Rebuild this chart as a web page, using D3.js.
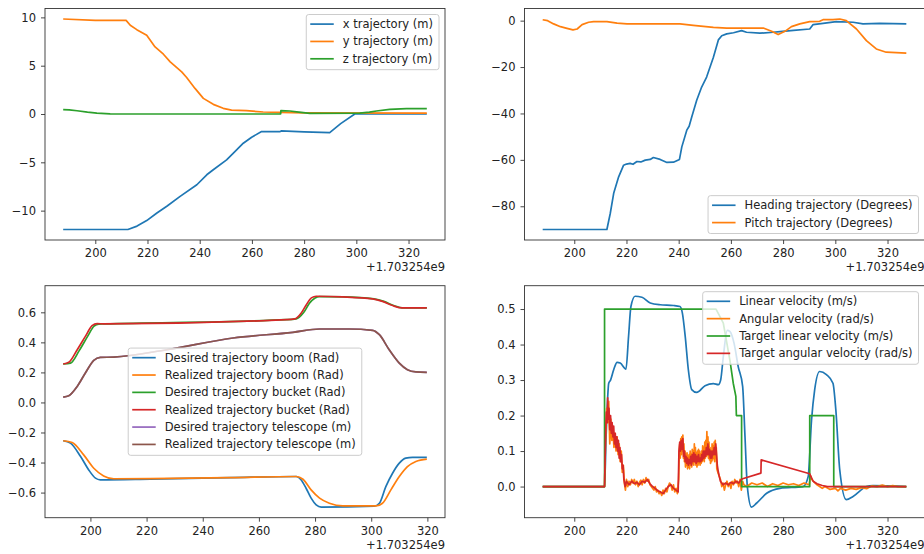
<!DOCTYPE html>
<html lang="en">
<head>
<meta charset="utf-8">
<title>Trajectories</title>
<style>
  body { margin: 0; background: #fff; }
  svg { display: block; font-family: "DejaVu Sans", sans-serif; }
</style>
<script src="https://d3js.org/d3.v7.min.js"></script>
</head>
<body>
<script>
// ---- data (time in s, offset +1.703254e9) ----
var xTicks = [200, 220, 240, 260, 280, 300, 320];
var offsetLabel = "+1.703254e9";

// top left: position
var xTraj = [[187.7,-11.95],[212.5,-11.95],[216,-11.6],[219.7,-11.03],[223.6,-10.24],[227.4,-9.55],[232.5,-8.52],[238.9,-7.32],[242.7,-6.29],[245.2,-5.77],[250.3,-4.74],[252.9,-4.05],[256.7,-3.02],[259.9,-2.4],[263.7,-1.82],[270.8,-1.82],[271.2,-1.75],[280,-1.85],[289.8,-1.92],[294,-1.0],[299.4,0.0],[327,0.0]];
var yTraj = [[187.7,9.83],[200,9.69],[211.8,9.69],[213.4,9.18],[215.9,8.73],[219.7,8.14],[222.9,6.94],[226.1,6.19],[228.7,5.40],[233.1,4.36],[235,3.78],[238.2,2.65],[241.4,1.62],[245.2,1.0],[249,0.59],[252.2,0.41],[257.9,0.34],[264.3,0.21],[270.7,0.17],[280,0.12],[327,0.1]];
var zTraj = [[187.7,0.45],[190,0.43],[193,0.34],[197,0.2],[200.6,0.1],[205.7,0.02],[271,0.0],[271.1,0.35],[274.5,0.31],[278,0.2],[282.2,0.07],[301.3,0.1],[305,0.2],[307.7,0.31],[312.8,0.48],[319.2,0.55],[327,0.55]];
var tlYTicks = [-10, -5, 0, 5, 10];

// top right: attitude
var heading = [[187.9,-90],[212.5,-90],[213.8,-83],[215.1,-74.4],[217,-67.3],[218.9,-62.3],[220,-61.8],[221.4,-61.5],[222.5,-61.9],[224,-60.7],[225.5,-60.9],[227.2,-60.1],[229.1,-59.8],[230.3,-59],[232.9,-59.8],[235.5,-61.1],[238,-61],[240.3,-59.8],[241.2,-54.4],[243.1,-47.2],[244,-45.5],[245,-41.5],[246.9,-34.3],[248.8,-28.6],[250.7,-24.3],[253.3,-15.8],[255.2,-8.3],[256.5,-6.5],[258.4,-5.7],[261,-5.2],[264.1,-4.3],[266,-5.0],[271.1,-5.4],[276.2,-5.0],[278.8,-4.7],[284,-4.2],[290.2,-3.6],[291.5,-1.7],[295.3,-1.2],[300.4,-0.4],[306.8,-0.7],[310.6,-1.4],[317,-1.2],[327.2,-1.4]];
var pitch = [[187.9,0.4],[189.8,0],[192.1,-1.4],[194.7,-2.6],[197.2,-3.3],[199.5,-4.0],[201.1,-3.6],[203,-1.7],[205.5,-0.7],[207.4,-0.4],[212.5,-0.4],[216.4,-1.1],[220.2,-1.4],[240.5,-1.4],[245.6,-2.0],[253.3,-2.9],[258.4,-3.2],[272.4,-3.2],[275.6,-4.6],[278.1,-6.0],[280.7,-4.6],[283.2,-2.6],[286.4,-1.4],[290.2,-0.4],[294,-0.3],[295.3,0.4],[299.1,0.4],[301.7,0.7],[304.2,0],[308.1,-3.6],[311.9,-8.6],[315.7,-12.2],[319.5,-13.6],[327.2,-14]];
var trYTicks = [-80, -60, -40, -20, 0];

// bottom left: joints
var boomDes = [[190.3,-0.255],[192.9,-0.271],[196.5,-0.36],[199.4,-0.449],[201.8,-0.504],[203.5,-0.515],[221.3,-0.51],[250,-0.5],[273.3,-0.493],[275,-0.515],[276.8,-0.571],[278.6,-0.637],[280.4,-0.682],[282.2,-0.697],[301.1,-0.69],[302.9,-0.671],[305.2,-0.56],[307.6,-0.471],[310,-0.404],[312.3,-0.371],[314.7,-0.365],[319.8,-0.365]];
var boomReal = [[190.3,-0.255],[193.5,-0.267],[197.6,-0.349],[201.2,-0.438],[204.7,-0.489],[208.3,-0.508],[221.3,-0.507],[250,-0.5],[273.3,-0.493],[275.7,-0.511],[278.6,-0.582],[281.6,-0.637],[285.1,-0.671],[289.9,-0.689],[301.7,-0.689],[304,-0.671],[307,-0.582],[310,-0.493],[312.9,-0.427],[315.9,-0.393],[319.8,-0.377]];
var bucketDes = [[190.3,0.256],[192.9,0.262],[196,0.345],[199,0.44],[201.3,0.508],[203,0.522],[205,0.523],[269.8,0.551],[273.3,0.556],[276,0.6],[278,0.66],[280,0.695],[281.5,0.705],[290,0.703],[301,0.689],[304.5,0.673],[308,0.645],[311.5,0.629],[319.8,0.629]];
var bucketReal = [[190.3,0.256],[192.3,0.267],[195.3,0.351],[198.2,0.44],[200.6,0.511],[202.4,0.525],[204.7,0.523],[269.8,0.551],[272.7,0.556],[275.1,0.596],[276.9,0.651],[278.7,0.696],[280.4,0.707],[289.9,0.703],[300.5,0.689],[304,0.673],[307.6,0.645],[311.1,0.629],[319.8,0.629]];
var teleDes = [[190.3,0.036],[192.3,0.045],[195.3,0.107],[198.2,0.196],[201.2,0.28],[203.5,0.3],[208.3,0.302],[227.2,0.351],[250.8,0.429],[272.1,0.467],[281.6,0.489],[292.2,0.489],[300.5,0.48],[302.9,0.451],[306.4,0.351],[310,0.262],[312.9,0.218],[315.9,0.203],[319.8,0.2]];
var teleReal = [[190.3,0.036],[192.3,0.045],[195.3,0.107],[198.2,0.196],[201.2,0.28],[203.5,0.3],[208.3,0.302],[227.2,0.351],[250.8,0.429],[272.1,0.467],[281.6,0.489],[292.2,0.489],[300.5,0.48],[302.9,0.451],[306.4,0.351],[310,0.262],[312.9,0.218],[315.9,0.203],[319.8,0.2]];
var blYTicks = [-0.6, -0.4, -0.2, 0.0, 0.2, 0.4, 0.6];

// bottom right: velocities
var linVel = [[187.9,0],[211.6,0],[212.2,0.141],[213.2,0.291],[213.9,0.30],[215.1,0.329],[216.4,0.35],[217.6,0.348],[219.8,0.331],[220.8,0.423],[221.7,0.507],[223.3,0.536],[225.9,0.533],[229.1,0.517],[232.9,0.512],[238,0.51],[240.5,0.507],[241.4,0.489],[242.5,0.423],[243.7,0.329],[245,0.273],[246.9,0.265],[250.1,0.284],[253.3,0.29],[255.2,0.287],[256.1,0.301],[257.1,0.366],[258.6,0.44],[259.6,0.437],[261.2,0.404],[262.8,0.338],[264.5,0.282],[265.4,0.141],[266.3,0],[267.9,-0.058],[269.8,-0.047],[273.7,-0.019],[278.8,-0.005],[287.7,0],[289.6,0.028],[290.9,0.188],[292.1,0.273],[294,0.324],[296.6,0.315],[299.1,0.291],[300.2,0.216],[301.7,0.047],[304.2,-0.037],[306.8,-0.028],[311.9,0],[314.4,0.003],[327.2,0]];
var angVel = [[187.9,0],[211.6,0],[212.0,0.14],[212.4,0.22],[212.8,0.18],[213.2,0.24],[213.6,0.12],[214.0,0.19],[214.4,0.13],[214.8,0.16],[215.2,0.11],[215.6,0.15],[216.0,0.10],[216.4,0.14],[216.8,0.09],[217.2,0.12],[217.6,0.07],[218.0,0.10],[218.4,0.04],[218.8,0.06],[219.2,0.01],[219.6,-0.01],[220.0,0.02],[220.5,0.0],[221.0,0.015],[221.5,0.005],[222.0,0.02],[222.5,0.01],[223.0,0.02],[223.5,0.005],[224.0,0.015],[224.5,0.0],[225.0,0.012],[225.5,0.018],[226.0,0.005],[226.5,0.02],[227.0,0.01],[227.5,0.025],[228.0,0.015],[228.5,0.02],[229.0,0.005],[229.5,0.0],[230.0,-0.005],[230.5,-0.01],[231.0,0.0],[231.5,-0.015],[232.0,-0.01],[232.5,-0.02],[233.0,-0.015],[233.5,-0.025],[234.0,-0.01],[234.5,-0.02],[235.0,-0.005],[235.5,-0.015],[236.0,0.0],[236.5,0.01],[237.0,0.005],[237.5,-0.01],[238.0,0.005],[238.5,-0.015],[239.0,-0.005],[239.5,-0.02],
  [240.0,0.02],[240.2,0.09],[240.4,0.12],[240.6,0.08],[240.8,0.135],[241.0,0.09],[241.2,0.14],[241.4,0.1],[241.6,0.145],[241.8,0.08],[242.0,0.12],[242.2,0.07],[242.4,0.1],[242.6,0.055],[242.8,0.09],[243.0,0.06],[243.2,0.095],[243.4,0.05],[243.6,0.085],[243.8,0.055],[244.0,0.09],[244.2,0.05],[244.4,0.1],[244.6,0.06],[244.8,0.09],[245.0,0.055],[245.2,0.105],[245.4,0.065],[245.6,0.1],[245.8,0.06],[246.0,0.12],[246.2,0.07],[246.4,0.11],[246.6,0.06],[246.8,0.095],[247.0,0.055],[247.2,0.1],[247.4,0.06],[247.6,0.105],[247.8,0.065],[248.0,0.1],[248.2,0.06],[248.4,0.09],[248.6,0.065],[248.8,0.1],[249.0,0.07],[249.2,0.115],[249.4,0.075],[249.6,0.11],[249.8,0.07],[250.0,0.125],[250.2,0.08],[250.4,0.13],[250.6,0.085],[250.8,0.155],[251.0,0.09],[251.2,0.14],[251.4,0.08],[251.6,0.125],[251.8,0.075],[252.0,0.11],[252.2,0.065],[252.4,0.1],[252.6,0.07],[252.8,0.12],[253.0,0.075],[253.2,0.115],[253.4,0.08],[253.6,0.125],[253.8,0.07],[254.0,0.13],[254.2,0.08],[254.4,0.11],[254.6,0.05],[254.8,0.045],[255.0,0.04],
  [255.5,0.03],[256.0,0.02],[256.5,0.0],[257.0,0.01],[257.5,-0.01],[258.0,0.005],[258.5,0.015],[259.0,0.0],[259.5,0.01],[260.0,-0.005],[260.5,0.015],[261.0,0.005],[261.5,0.02],[262.0,0.01],[262.5,0.015],[263.0,0.0],[263.5,0.02],[264.0,-0.01],[264.5,0.015],[265.0,0.005],[266,0.0],[268,0.01],[270,0.005],[272,0.01],[274,0.0],[276,0.008],[278,0.003],[280,0.01],[282,0.005],[284,0.008],[286,0.003],[288,0.01],[290,0.005],[290.5,0.03],[291,0.02],[292,0.012],[293,0.005],[294,0.0],[295,-0.005],[296,0.0],[298,-0.008],[300,-0.005],[301,-0.012],[302,-0.005],[304,-0.01],[306,-0.005],[308,-0.008],[310,-0.003],[312,-0.006],[314,0.002],[316,0.0],[318,0.004],[320,0.0],[322,0.003],[324,0.0],[327.2,0.0]];
var tgtLin = [[187.9,0],[211.6,0],[211.6,0.5],[254.3,0.5],[257.1,0.46],[259.6,0.357],[260.9,0.291],[261.9,0.254],[262.1,0.2],[264.1,0.2],[264.1,0],[290.2,0],[290.2,0.2],[299.4,0.2],[299.4,0],[327.2,0]];
var tgtAng = [[187.9,0],[211.6,0],[212.0,0.15],[212.3,0.21],[212.6,0.18],[212.8,0.25],[213.0,0.19],[213.3,0.22],[213.6,0.16],[213.9,0.2],[214.2,0.15],[214.5,0.18],[214.8,0.14],[215.1,0.17],[215.4,0.12],[215.7,0.15],[216.0,0.11],[216.3,0.14],[216.6,0.1],[216.9,0.13],[217.2,0.08],[217.5,0.11],[217.8,0.07],[218.1,0.09],[218.4,0.05],[218.7,0.06],[219.0,0.02],[219.5,0.0],[220,0.015],[221,0.005],[222,0.015],[223,0.008],[224,0.012],[225,0.005],[226,0.015],[227,0.012],[228,0.02],[229,0.008],[230,0.0],[231,-0.005],[232,-0.012],[233,-0.015],[234,-0.02],[235,-0.01],[236,0.0],[237,0.005],[238,-0.005],[239,-0.01],[239.8,-0.015],
  [240.1,0.1],[240.4,0.125],[240.7,0.1],[241.0,0.13],[241.3,0.105],[241.6,0.135],[241.9,0.085],[242.2,0.1],[242.5,0.07],[242.8,0.085],[243.1,0.065],[243.4,0.08],[243.7,0.06],[244.0,0.075],[244.3,0.065],[244.6,0.085],[244.9,0.06],[245.2,0.09],[245.5,0.07],[245.8,0.095],[246.1,0.07],[246.4,0.09],[246.7,0.065],[247.0,0.085],[247.3,0.07],[247.6,0.09],[247.9,0.07],[248.2,0.08],[248.5,0.07],[248.8,0.09],[249.1,0.075],[249.4,0.1],[249.7,0.08],[250.0,0.1],[250.3,0.085],[250.6,0.11],[250.9,0.09],[251.2,0.12],[251.5,0.09],[251.8,0.105],[252.1,0.08],[252.4,0.1],[252.7,0.08],[253.0,0.1],[253.3,0.09],[253.6,0.11],[253.9,0.09],[254.2,0.12],[254.5,0.09],[254.8,0.06],[255.1,0.045],
  [255.5,0.03],[256,0.015],[257,0.005],[258,0.01],[259,0.005],[260,0.012],[261,0.008],[262,0.015],[263,0.01],[264,0.02],[264.5,0.022],[271.5,0.038],[271.6,0.075],[290.2,0.036],[291.5,0.015],[293,0.008],[295,0.003],[297,0.0],[327.2,0.0]];
var brYTicks = [0.0, 0.1, 0.2, 0.3, 0.4, 0.5];

var C = {blue: "#1f77b4", orange: "#ff7f0e", green: "#2ca02c", red: "#d62728", purple: "#9467bd", brown: "#8c564b"};

// ---- drawing ----
var W = 924, H = 554, fs = 11.5;
var svg = d3.select("body").append("svg").attr("width", W).attr("height", H);

function drawPanel(p, idx) {
  var all = [];
  p.series.forEach(function (s) { all = all.concat(s.data); });
  var xe = d3.extent(all, function (d) { return d[0]; });
  var ye = d3.extent(all, function (d) { return d[1]; });
  var xm = (xe[1] - xe[0]) * 0.05, ym = (ye[1] - ye[0]) * 0.05;
  var x = d3.scaleLinear().domain([xe[0] - xm, xe[1] + xm]).range([p.left, p.left + p.w]);
  var y = d3.scaleLinear().domain([ye[0] - ym, ye[1] + ym]).range([p.top + p.h, p.top]);

  var g = svg.append("g");
  g.append("clipPath").attr("id", "clip" + idx)
    .append("rect").attr("x", p.left).attr("y", p.top).attr("width", p.w).attr("height", p.h);

  var lines = g.append("g").attr("clip-path", "url(#clip" + idx + ")");
  p.series.forEach(function (s) {
    lines.append("path").datum(s.data)
      .attr("fill", "none")
      .attr("stroke", s.color)
      .attr("stroke-width", 1.7)
      .attr("stroke-linejoin", "round")
      .attr("d", d3.line().x(function (d) { return x(d[0]); }).y(function (d) { return y(d[1]); })
        .curve(s.curve || d3.curveLinear));
  });

  // axes
  var xa = g.append("g").attr("transform", "translate(0," + (p.top + p.h) + ")")
    .call(d3.axisBottom(x).tickValues(xTicks).tickSize(4).tickPadding(5).tickFormat(d3.format("d")));
  var ya = g.append("g").attr("transform", "translate(" + p.left + ",0)")
    .call(d3.axisLeft(y).tickValues(p.yTicks).tickSize(4).tickPadding(5).tickFormat(d3.format(p.yFmt)));
  [xa, ya].forEach(function (a) {
    a.select(".domain").remove();
    a.attr("font-size", fs).attr("font-family", "DejaVu Sans, sans-serif");
    a.selectAll("line").attr("stroke", "#333").attr("stroke-width", 0.9);
    a.selectAll("text").attr("fill", "#222");
  });

  g.append("rect").attr("x", p.left).attr("y", p.top).attr("width", p.w).attr("height", p.h)
    .attr("fill", "none").attr("stroke", "#333").attr("stroke-width", 0.9);

  g.append("text").attr("x", p.left + p.w).attr("y", p.top + p.h + 31)
    .attr("text-anchor", "end").attr("font-size", fs).attr("fill", "#222")
    .text(offsetLabel);

  // legend
  var lg = g.append("g");
  var rowH = 17.35, n = p.series.length;
  var texts = p.series.map(function (s, i) {
    return lg.append("text").attr("font-size", fs).attr("fill", "#222").attr("dy", "0.35em").text(s.label);
  });
  var maxW = d3.max(texts, function (t) { return t.node().getComputedTextLength(); });
  var bw = 36.5 + maxW + 6, bh = (n - 1) * rowH + 20.5;
  var bx, by;
  if (p.legend === "ur") { bx = p.left + p.w - 6 - bw; by = p.top + 6; }
  else if (p.legend === "lr") { bx = p.left + p.w - 6 - bw; by = p.top + p.h - 6.5 - bh; }
  else { bx = p.left + (p.w - bw) / 2; by = p.top + (p.h - bh) / 2; }
  lg.insert("rect", ":first-child").attr("x", bx).attr("y", by).attr("width", bw).attr("height", bh)
    .attr("rx", 2.5).attr("fill", "#fff").attr("fill-opacity", 0.8)
    .attr("stroke", "#ccc").attr("stroke-width", 1);
  p.series.forEach(function (s, i) {
    var cy = by + 9.6 + i * rowH;
    lg.append("line").attr("x1", bx + 4).attr("x2", bx + 27.5).attr("y1", cy).attr("y2", cy)
      .attr("stroke", s.color).attr("stroke-width", 1.7);
    texts[i].attr("x", bx + 36.5).attr("y", cy);
  });
}

var panels = [
  { left: 45, top: 8.5, w: 400, h: 231.5, yTicks: tlYTicks, yFmt: "d", legend: "ur",
    series: [
      { data: xTraj, color: C.blue, label: "x trajectory (m)" },
      { data: yTraj, color: C.orange, label: "y trajectory (m)" },
      { data: zTraj, color: C.green, label: "z trajectory (m)" }
    ] },
  { left: 524.5, top: 8.5, w: 400, h: 231.5, yTicks: trYTicks, yFmt: "d", legend: "lr",
    series: [
      { data: heading, color: C.blue, label: "Heading trajectory (Degrees)" },
      { data: pitch, color: C.orange, label: "Pitch trajectory (Degrees)" }
    ] },
  { left: 45, top: 285.7, w: 400, h: 232, yTicks: blYTicks, yFmt: ".1f", legend: "c",
    series: [
      { data: boomDes, color: C.blue, label: "Desired trajectory boom (Rad)", curve: d3.curveMonotoneX },
      { data: boomReal, color: C.orange, label: "Realized trajectory boom (Rad)", curve: d3.curveMonotoneX },
      { data: bucketDes, color: C.green, label: "Desired trajectory bucket (Rad)", curve: d3.curveMonotoneX },
      { data: bucketReal, color: C.red, label: "Realized trajectory bucket (Rad)", curve: d3.curveMonotoneX },
      { data: teleDes, color: C.purple, label: "Desired trajectory telescope (m)", curve: d3.curveMonotoneX },
      { data: teleReal, color: C.brown, label: "Realized trajectory telescope (m)", curve: d3.curveMonotoneX }
    ] },
  { left: 524.5, top: 285.7, w: 400, h: 232, yTicks: brYTicks, yFmt: ".1f", legend: "ur",
    series: [
      { data: linVel, color: C.blue, label: "Linear velocity (m/s)", curve: d3.curveMonotoneX },
      { data: angVel, color: C.orange, label: "Angular velocity (rad/s)" },
      { data: tgtLin, color: C.green, label: "Target linear velocity (m/s)" },
      { data: tgtAng, color: C.red, label: "Target angular velocity (rad/s)" }
    ] }
];

panels.forEach(drawPanel);
</script>
</body>
</html>
